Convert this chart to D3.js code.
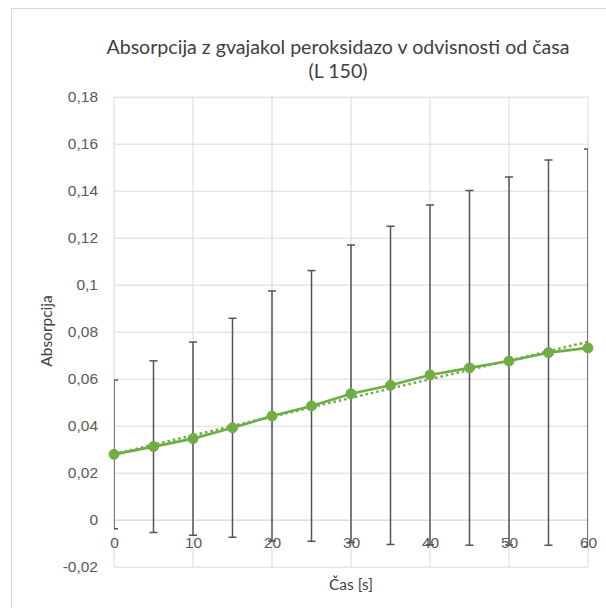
<!DOCTYPE html>
<html>
<head>
<meta charset="utf-8">
<script src="https://cdn.jsdelivr.net/npm/d3@7"></script>
<style>
  html, body { margin: 0; padding: 0; background: #fff; }
  svg { display: block; font-family: Lato, "Open Sans", sans-serif; }
</style>
</head>
<body>
<svg id="chart" width="606" height="608"></svg>
<script>
// Time points [s] and measured absorbance with standard deviations
const times = [0, 5, 10, 15, 20, 25, 30, 35, 40, 45, 50, 55, 60];
const absorbance = [0.0278, 0.0311, 0.0345, 0.0391, 0.0441, 0.0484, 0.0536, 0.0572, 0.0616, 0.0646, 0.0675, 0.0711, 0.0731];
const errors = [0.0316, 0.0365, 0.0411, 0.0466, 0.0532, 0.0576, 0.0633, 0.0677, 0.0723, 0.0755, 0.0783, 0.0820, 0.0846];

const xTicks = [0, 10, 20, 30, 40, 50, 60];
const yTicks = [-0.02, 0, 0.02, 0.04, 0.06, 0.08, 0.1, 0.12, 0.14, 0.16, 0.18];

const titleLines = ["Absorpcija z gvajakol peroksidazo v odvisnosti od časa", "(L 150)"];
const xTitle = "Čas [s]";
const yTitle = "Absorpcija";

const green = "#70AD47";
const grid = "#d9d9d9";
const textColor = "#595959";

const svg = d3.select("#chart");

// chart area frame
svg.append("rect")
  .attr("x", 11.5).attr("y", 8.5)
  .attr("width", 800).attr("height", 800)
  .attr("fill", "#fff").attr("stroke", grid).attr("stroke-width", 1);

const plot = { left: 114, right: 588, top: 96.7, bottom: 566.7 };

const x = d3.scaleLinear().domain([0, 60]).range([plot.left, plot.right]);
const y = d3.scaleLinear().domain([-0.02, 0.18]).range([plot.bottom, plot.top]);

const fmt = d => String(+d.toFixed(2)).replace(".", ",");

// horizontal gridlines + y tick labels
const yAxis = svg.append("g")
  .attr("transform", `translate(${plot.left},0)`)
  .call(d3.axisLeft(y).tickValues(yTicks).tickFormat(fmt)
    .tickSize(-(plot.right - plot.left)).tickPadding(16));
yAxis.select(".domain").remove();
yAxis.selectAll(".tick line").attr("stroke", grid).attr("stroke-width", 1);
yAxis.selectAll(".tick text").attr("fill", textColor).attr("font-size", 15.5);

// vertical gridlines
svg.append("g")
  .selectAll("line")
  .data(xTicks)
  .join("line")
  .attr("x1", d => x(d)).attr("x2", d => x(d))
  .attr("y1", plot.top).attr("y2", plot.bottom)
  .attr("stroke", grid).attr("stroke-width", 1);

// x axis crossing at zero
const xAxis = svg.append("g")
  .attr("transform", `translate(0,${y(0)})`)
  .call(d3.axisBottom(x).tickValues(xTicks).tickFormat(d => d).tickSize(0).tickPadding(17));
xAxis.select(".domain").attr("stroke", grid);
xAxis.selectAll(".tick text").attr("fill", textColor).attr("font-size", 15.5);

// clip error bar caps to the plot area
svg.append("clipPath").attr("id", "plotClip")
  .append("rect")
  .attr("x", plot.left).attr("y", plot.top - 5)
  .attr("width", plot.right - plot.left).attr("height", plot.bottom - plot.top + 10);

const pts = times.map((t, i) => ({ t, v: absorbance[i], e: errors[i] }));

// error bars
const eb = svg.append("g").attr("clip-path", "url(#plotClip)")
  .attr("stroke", "#555555").attr("stroke-width", 1.5);
const capW = 4;
pts.forEach(p => {
  const cx = x(p.t);
  const yt = y(p.v + p.e), yb = y(p.v - p.e);
  eb.append("line").attr("x1", cx).attr("x2", cx).attr("y1", yt).attr("y2", yb);
  eb.append("line").attr("x1", cx - capW).attr("x2", cx + capW).attr("y1", yt).attr("y2", yt);
  eb.append("line").attr("x1", cx - capW).attr("x2", cx + capW).attr("y1", yb).attr("y2", yb);
});

// least-squares linear trendline
const mx = d3.mean(times), my = d3.mean(absorbance);
const slope = d3.sum(times, (t, i) => (t - mx) * (absorbance[i] - my)) / d3.sum(times, t => (t - mx) ** 2);
const intercept = my - slope * mx;
svg.append("line")
  .attr("x1", x(0)).attr("y1", y(intercept))
  .attr("x2", x(60)).attr("y2", y(intercept + slope * 60))
  .attr("stroke", green).attr("stroke-width", 2.5)
  .attr("stroke-dasharray", "2.5,3");

// series line
svg.append("path")
  .datum(pts)
  .attr("fill", "none")
  .attr("stroke", green).attr("stroke-width", 2.6)
  .attr("stroke-linejoin", "round")
  .attr("d", d3.line().x(d => x(d.t)).y(d => y(d.v)));

// markers
svg.append("g")
  .selectAll("circle")
  .data(pts)
  .join("circle")
  .attr("cx", d => x(d.t)).attr("cy", d => y(d.v))
  .attr("r", 5)
  .attr("fill", green).attr("stroke", green).attr("stroke-width", 1);

// titles
svg.append("text")
  .attr("x", 338).attr("y", 54)
  .attr("text-anchor", "middle")
  .attr("fill", "#404040").attr("font-size", 19.6)
  .selectAll("tspan")
  .data(titleLines)
  .join("tspan")
  .attr("x", 338)
  .attr("dy", (d, i) => i === 0 ? 0 : 24)
  .text(d => d);

svg.append("text")
  .attr("x", (plot.left + plot.right) / 2).attr("y", 590)
  .attr("text-anchor", "middle")
  .attr("fill", "#404040").attr("font-size", 15.5)
  .text(xTitle);

svg.append("text")
  .attr("transform", `translate(52,331) rotate(-90)`)
  .attr("text-anchor", "middle")
  .attr("fill", "#404040").attr("font-size", 15.5)
  .text(yTitle);
</script>
</body>
</html>
